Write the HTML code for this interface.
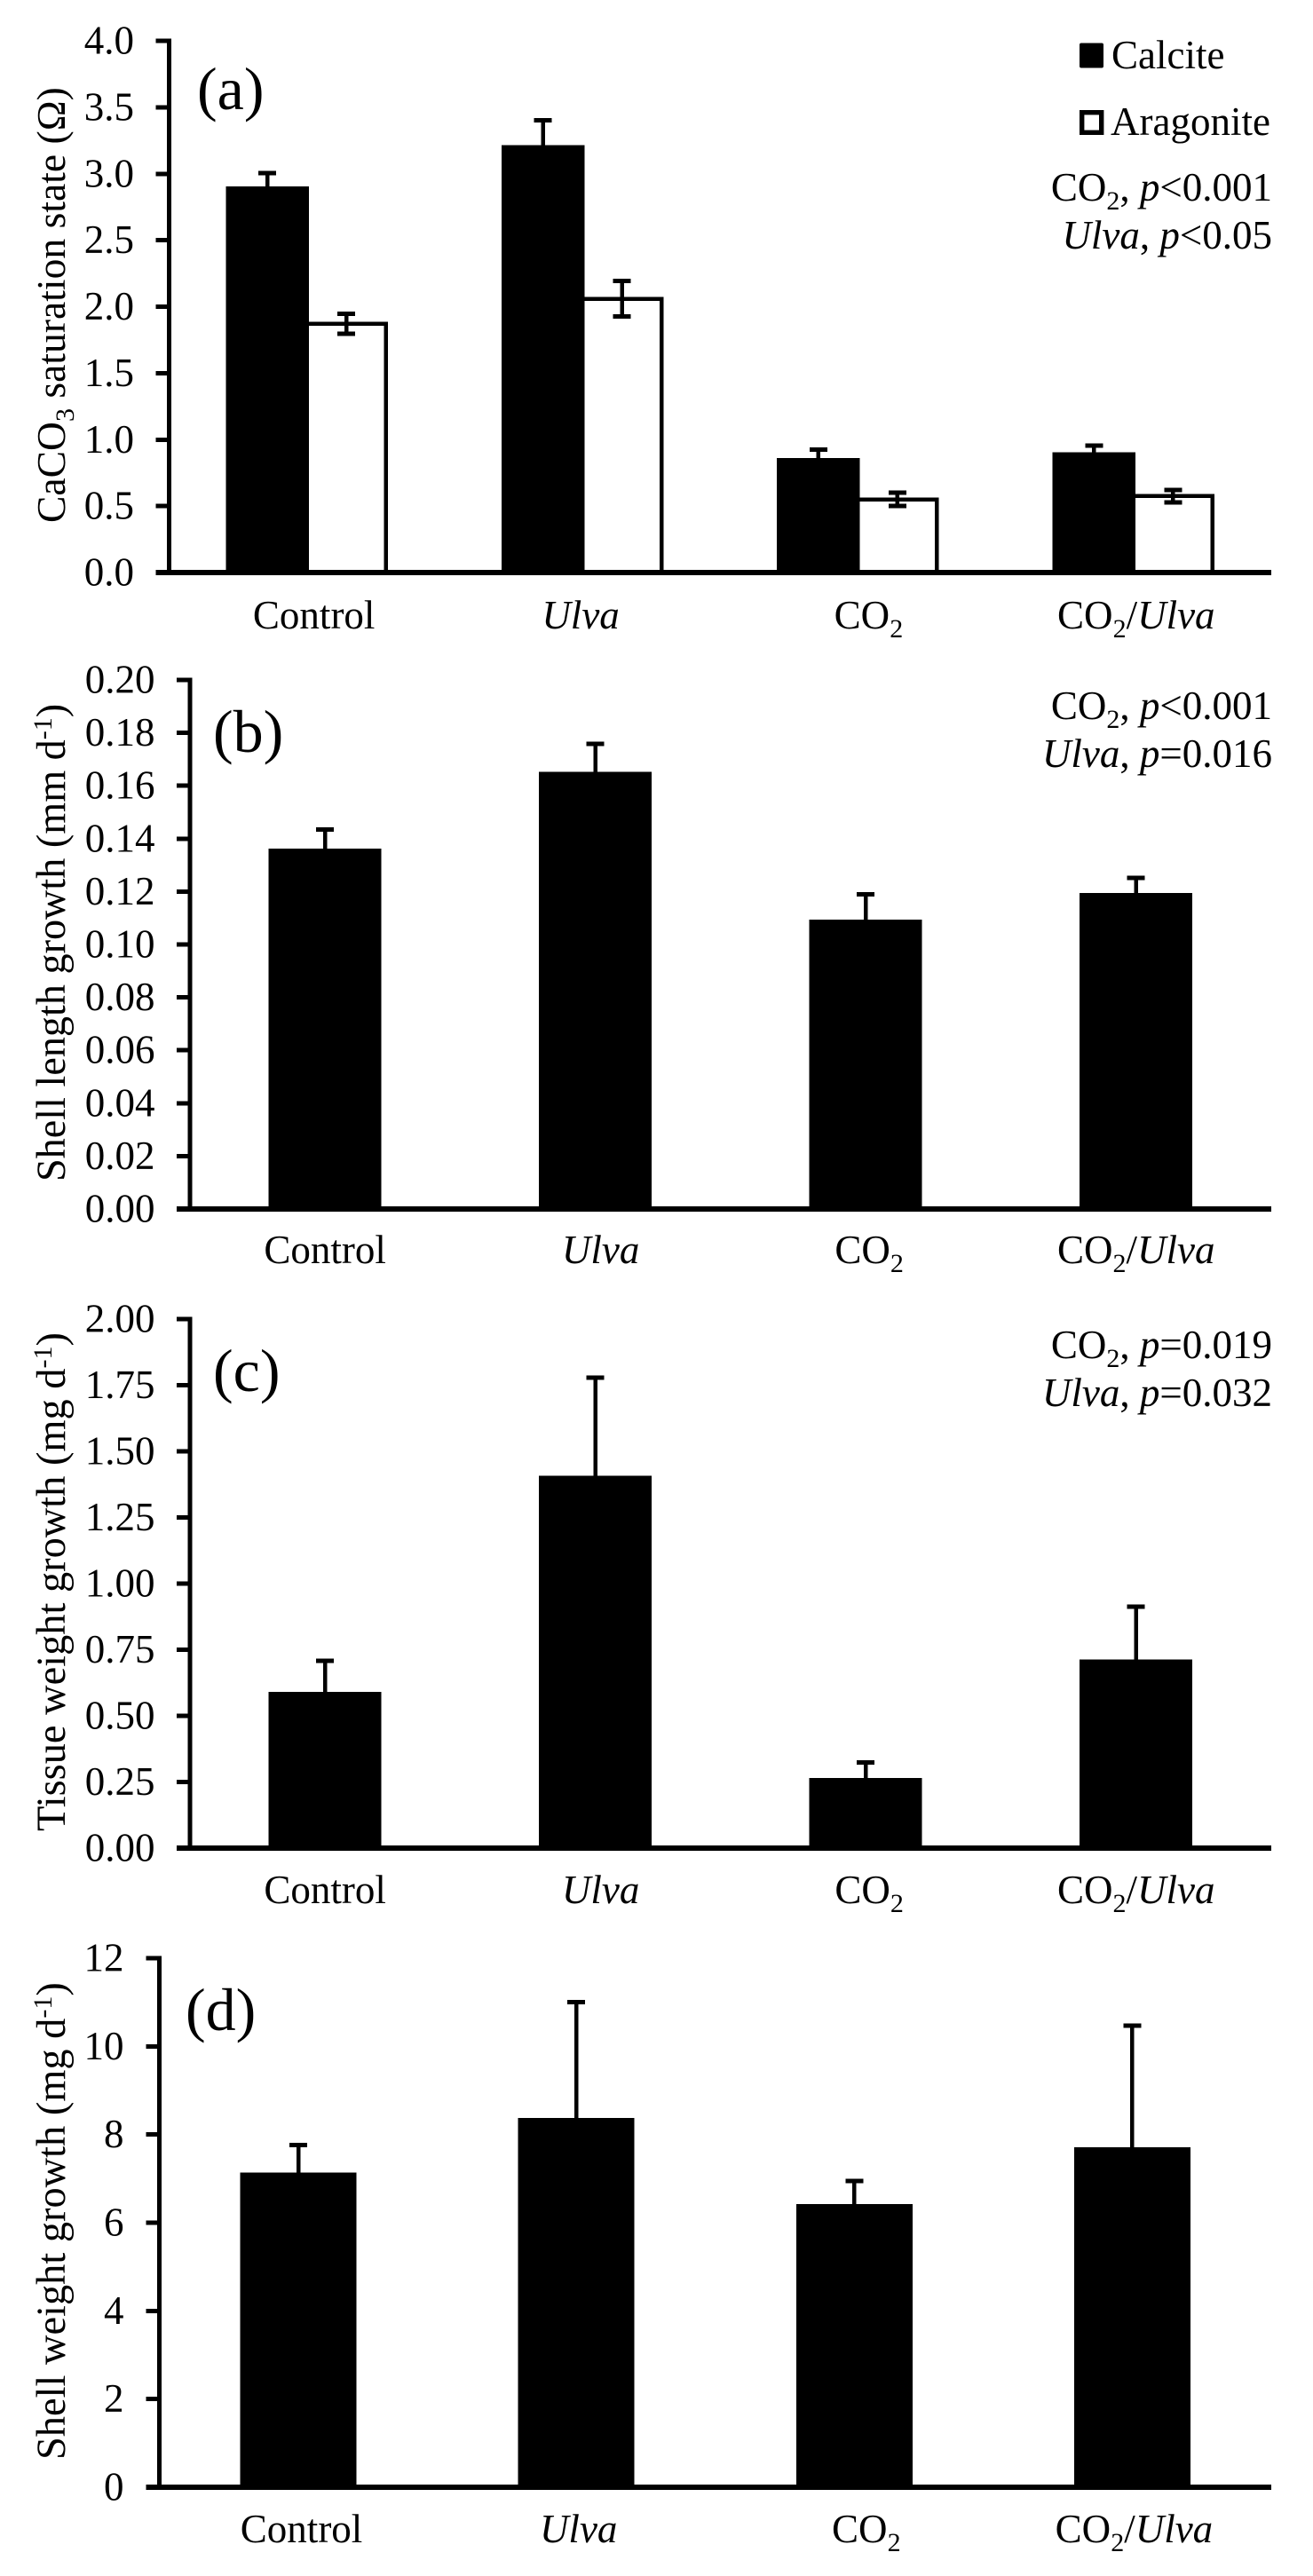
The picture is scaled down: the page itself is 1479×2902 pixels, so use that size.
<!DOCTYPE html>
<html lang="en">
<head>
<meta charset="utf-8">
<title>CaCO3 saturation state and growth charts</title>
<style>
html,body{margin:0;padding:0;background:#fff;}
svg{display:block;}
text{font-family:"Liberation Serif","Times New Roman",serif;font-size:45px;fill:#000;}
</style>
</head>
<body>
<svg id="figure" xmlns="http://www.w3.org/2000/svg" width="1479" height="2902" viewBox="0 0 1479 2902"></svg>
<script>
const categories = ['Control', 'Ulva', 'CO2', 'CO2/Ulva'];

const ticksA = ['0.0', '0.5', '1.0', '1.5', '2.0', '2.5', '3.0', '3.5', '4.0'];
const calcite = [2.89, 3.20, 0.845, 0.89];
const calciteErr = [0.115, 0.204, 0.08, 0.066];
const aragonite = [1.87, 2.06, 0.55, 0.575];
const aragoniteErr = [0.075, 0.134, 0.05, 0.046];

const ticksB = ['0.00', '0.02', '0.04', '0.06', '0.08', '0.10', '0.12', '0.14', '0.16', '0.18', '0.20'];
const shellLength = [0.1355, 0.1645, 0.1087, 0.1187];
const shellLengthErr = [0.008, 0.0113, 0.0103, 0.0065];

const ticksC = ['0.00', '0.25', '0.50', '0.75', '1.00', '1.25', '1.50', '1.75', '2.00'];
const tissueWeight = [0.583, 1.40, 0.258, 0.705];
const tissueWeightErr = [0.125, 0.379, 0.066, 0.207];

const ticksD = ['0', '2', '4', '6', '8', '10', '12'];
const shellWeight = [7.09, 8.33, 6.38, 7.67];
const shellWeightErr = [0.67, 2.67, 0.57, 2.80];

const SVGNS = 'http://www.w3.org/2000/svg';
const fig = document.getElementById('figure');

function make(tag, attrs, parent) {
  const el = document.createElementNS(SVGNS, tag);
  for (const k in attrs) el.setAttribute(k, attrs[k]);
  (parent || fig).appendChild(el);
  return el;
}

/* Fill a text element: CO2 / CaCO3 get subscripts, d-1 a superscript, Ulva and p are italic. */
function rich(textEl, str) {
  const re = /(CO2|CaCO3|d-1|Ulva|\bp(?=[<=]))/g;
  const pieces = [];
  let last = 0, m;
  while ((m = re.exec(str))) {
    if (m.index > last) pieces.push({t: str.slice(last, m.index)});
    const tok = m[0];
    if (tok === 'CO2') { pieces.push({t: 'CO'}); pieces.push({t: '2', sub: 1}); }
    else if (tok === 'CaCO3') { pieces.push({t: 'CaCO'}); pieces.push({t: '3', sub: 1}); }
    else if (tok === 'd-1') { pieces.push({t: 'd'}); pieces.push({t: '-1', sup: 1}); }
    else pieces.push({t: tok, it: 1});
    last = m.index + tok.length;
  }
  if (last < str.length) pieces.push({t: str.slice(last)});
  let shift = 0;
  pieces.forEach(function (p) {
    const target = p.sub ? 10 : p.sup ? -15 : 0;
    const attrs = {};
    if (target !== shift) attrs.dy = target - shift;
    if (p.sub || p.sup) attrs['font-size'] = 30;
    if (p.it) attrs['font-style'] = 'italic';
    shift = target;
    const ts = make('tspan', attrs, textEl);
    ts.setAttribute('xml:space', 'preserve');
    ts.textContent = p.t;
  });
}

function drawPanel(cfg) {
  const g = make('g', {});
  
  

  const max = parseFloat(cfg.ticks[cfg.ticks.length - 1]);
  const y = function (v) { return cfg.y0 - (v / max) * (cfg.y0 - cfg.yTop); };
  const band = (cfg.xRight - cfg.xAxis) / categories.length;
  const xc = function (i) { return cfg.xAxis + band * (i + 0.5); };

  /* bars + error bars */
  cfg.series.forEach(function (s) {
    s.values.forEach(function (v, i) {
      const left = xc(i) + s.offset;
      const cx = left + cfg.barW / 2;
      const errTop = y(v + s.errors[i]);
      const errBot = s.both ? y(v - s.errors[i]) : y(v);

      const bar = make('rect', {x: left, y: y(v), width: cfg.barW, height: cfg.y0 - y(v),
        fill: s.fill, stroke: '#000', 'stroke-width': 4.5, 'shape-rendering': 'crispEdges'}, g);
      
      

      const stem = make('line', {x1: cx, x2: cx, y1: errTop, y2: errBot,
        stroke: '#000', 'stroke-width': 4.6, 'shape-rendering': 'crispEdges'}, g);
      
      

      const cap = make('line', {x1: cx - 10, x2: cx + 10, y1: errTop, y2: errTop,
        stroke: '#000', 'stroke-width': 5, 'shape-rendering': 'crispEdges'}, g);
      
      

      if (s.both) {
        const capB = make('line', {x1: cx - 10, x2: cx + 10, y1: errBot, y2: errBot,
          stroke: '#000', 'stroke-width': 5, 'shape-rendering': 'crispEdges'}, g);
        
        
      }
    });
  });

  /* axes */
  const yAxis = make('line', {x1: cfg.xAxis, x2: cfg.xAxis, y1: cfg.yTop - 2.5, y2: cfg.y0,
    stroke: '#000', 'stroke-width': 5, 'shape-rendering': 'crispEdges'}, g);
  
  

  const xAxis = make('line', {x1: cfg.xAxis - 15, x2: cfg.xRight, y1: cfg.y0, y2: cfg.y0,
    stroke: '#000', 'stroke-width': 5.7, 'shape-rendering': 'crispEdges'}, g);
  
  

  /* ticks */
  cfg.ticks.forEach(function (label) {
    const ty = y(parseFloat(label));
    const tick = make('line', {x1: cfg.xAxis - 15, x2: cfg.xAxis, y1: ty, y2: ty,
      stroke: '#000', 'stroke-width': 5, 'shape-rendering': 'crispEdges'}, g);
    
    

    const t = make('text', {x: cfg.tickRight, y: ty + 14.5, 'text-anchor': 'end'}, g);
    
    
    t.textContent = label;
  });

  /* category labels */
  categories.forEach(function (c, i) {
    const t = make('text', {x: xc(i) + cfg.labelNudge[i], y: cfg.labelY, 'text-anchor': 'middle'}, g);
    
    
    rich(t, c);
  });

  /* y title */
  const title = make('text', {x: 0, y: 0, transform: 'translate(73 ' + cfg.titleY + ') rotate(-90)', style: 'font-size:' + cfg.titleSize + 'px'}, g);
  
  
  rich(title, cfg.title);

  /* panel letter */
  const letter = make('text', {x: cfg.letterX, y: cfg.letterY, style: 'font-size:68px'}, g);
  
  
  letter.textContent = '(' + cfg.id + ')';

  /* statistics */
  cfg.stats.forEach(function (line, i) {
    const t = make('text', {x: 1433, y: cfg.statsY[i], 'text-anchor': 'end'}, g);
    
    
    rich(t, line);
  });
  return g;
}

const panelA = drawPanel({
  id: 'a', ticks: ticksA, xAxis: 190.5, xRight: 1432, yTop: 46, y0: 645, barW: 89,
  series: [
    {name: 'calcite', values: calcite, errors: calciteErr, fill: '#000', offset: -89, both: false},
    {name: 'aragonite', values: aragonite, errors: aragoniteErr, fill: '#fff', offset: 0, both: true}
  ],
  tickRight: 151, labelNudge: [8, -2, 12, 3], labelY: 708,
  title: 'CaCO3 saturation state (\u03A9)', titleY: 589, titleSize: 45.6,
  letterX: 222, letterY: 123,
  stats: ['CO2, p<0.001', 'Ulva, p<0.05'], statsY: [226, 280]
});

const panelB = drawPanel({
  id: 'b', ticks: ticksB, xAxis: 213.8, xRight: 1432, yTop: 766, y0: 1362, barW: 122.5,
  series: [{name: 'shell-length', values: shellLength, errors: shellLengthErr, fill: '#000', offset: -61.25, both: false}],
  tickRight: 174.5, labelNudge: [0, 6, 4, 0], labelY: 1423,
  title: 'Shell length growth (mm d-1)', titleY: 1331, titleSize: 46.2,
  letterX: 240, letterY: 847,
  stats: ['CO2, p<0.001', 'Ulva, p=0.016'], statsY: [810, 864]
});

const panelC = drawPanel({
  id: 'c', ticks: ticksC, xAxis: 213.8, xRight: 1432, yTop: 1486, y0: 2082, barW: 122.5,
  series: [{name: 'tissue-weight', values: tissueWeight, errors: tissueWeightErr, fill: '#000', offset: -61.25, both: false}],
  tickRight: 174.5, labelNudge: [0, 6, 4, 0], labelY: 2144,
  title: 'Tissue weight growth (mg d-1)', titleY: 2063, titleSize: 46.4,
  letterX: 240, letterY: 1567,
  stats: ['CO2, p=0.019', 'Ulva, p=0.032'], statsY: [1530, 1584]
});

const panelD = drawPanel({
  id: 'd', ticks: ticksD, xAxis: 179.5, xRight: 1432, yTop: 2206, y0: 2802, barW: 126.5,
  series: [{name: 'shell-weight', values: shellWeight, errors: shellWeightErr, fill: '#000', offset: -63.25, both: false}],
  tickRight: 139.5, labelNudge: [3.5, 2.5, 13.5, 2], labelY: 2864,
  title: 'Shell weight growth (mg d-1)', titleY: 2771, titleSize: 46.4,
  letterX: 209, letterY: 2287,
  stats: [], statsY: []
});

/* legend */
const legend = make('g', {}, panelA);



const swatchCalcite = make('rect', {x: 1216, y: 48.5, width: 27, height: 28, fill: '#000', rx: 2}, legend);



const labelCalcite = make('text', {x: 1252, y: 77}, legend);


labelCalcite.textContent = 'Calcite';

const swatchAragonite = make('rect', {x: 1218.7, y: 126.7, width: 22, height: 22.6, fill: '#fff', stroke: '#000', 'stroke-width': 5.4}, legend);



const labelAragonite = make('text', {x: 1251, y: 152}, legend);


labelAragonite.textContent = 'Aragonite';
</script>
</body>
</html>
